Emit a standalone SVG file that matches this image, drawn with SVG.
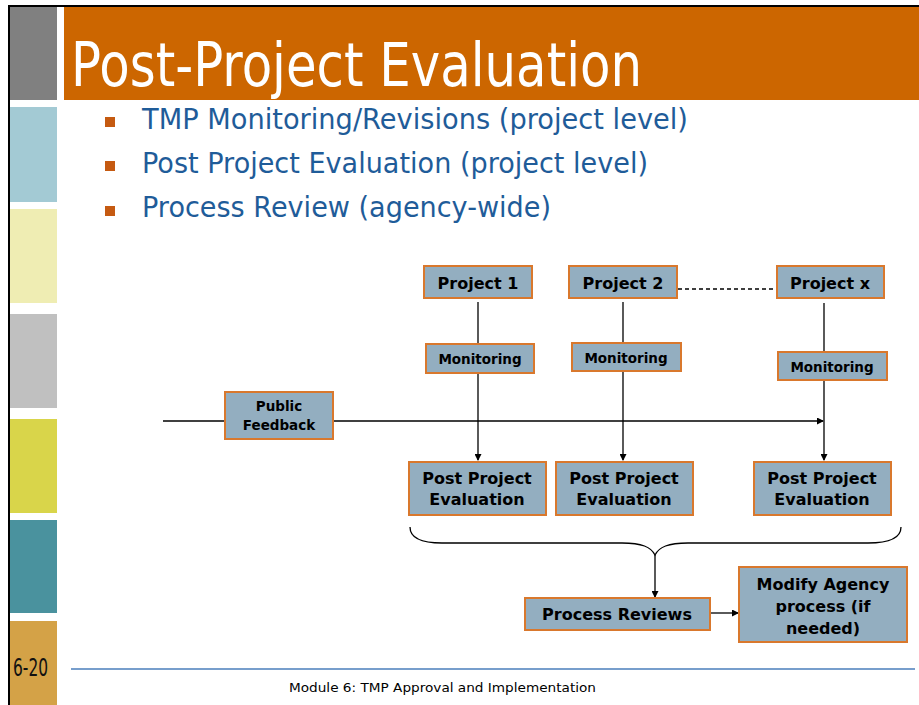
<svg xmlns="http://www.w3.org/2000/svg" width="919" height="705" viewBox="0 0 919 705">
<style>
.box{fill:#93AEC0;stroke:#D9782D;stroke-width:2}
.bt{font-family:"DejaVu Sans",Verdana,sans-serif;font-weight:bold;fill:#000;text-anchor:middle}
.bul{font-family:"DejaVu Sans",Verdana,sans-serif;font-size:29px;fill:#1F5C99}
.ln{stroke:#000;stroke-width:1.3;fill:none}
</style>
<defs>
<marker id="ah" markerWidth="7" markerHeight="7" refX="6" refY="3.5" orient="auto" markerUnits="userSpaceOnUse">
<path d="M0,0 L7,3.5 L0,7 Z" fill="#000"/>
</marker>
</defs>
<rect x="0" y="0" width="919" height="705" fill="#fff"/>
<!-- frame -->
<rect x="8" y="5" width="2" height="700" fill="#000"/>
<rect x="8" y="5" width="911" height="2" fill="#000"/>
<!-- left bars -->
<rect x="10" y="7" width="47" height="93" fill="#808080"/>
<rect x="10" y="107" width="47" height="95" fill="#A3CAD4"/>
<rect x="10" y="209" width="47" height="94" fill="#EFEDB3"/>
<rect x="10" y="314" width="47" height="94" fill="#C0C0C0"/>
<rect x="10" y="419" width="47" height="94" fill="#D9D54A"/>
<rect x="10" y="520" width="47" height="93" fill="#4A929E"/>
<rect x="10" y="621" width="47" height="84" fill="#D4A247"/>
<!-- title -->
<rect x="64" y="7" width="855" height="93" fill="#CC6600"/>
<text x="71" y="86" font-family="DejaVu Sans,Verdana,sans-serif" font-size="60" fill="#fff" textLength="571" lengthAdjust="spacingAndGlyphs">Post-Project Evaluation</text>
<!-- bullets -->
<rect x="105" y="117" width="10" height="10" fill="#C55A11"/>
<rect x="105" y="161" width="10" height="10" fill="#C55A11"/>
<rect x="105" y="206" width="10" height="10" fill="#C55A11"/>
<text class="bul" x="142" y="129" textLength="546" lengthAdjust="spacingAndGlyphs">TMP Monitoring/Revisions (project level)</text>
<text class="bul" x="142" y="173" textLength="506" lengthAdjust="spacingAndGlyphs">Post Project Evaluation (project level)</text>
<text class="bul" x="142" y="217" textLength="409" lengthAdjust="spacingAndGlyphs">Process Review (agency-wide)</text>
<!-- footer -->
<line x1="71" y1="669" x2="915" y2="669" stroke="#4A7EBB" stroke-width="1.5"/>
<text x="13" y="676" font-family="DejaVu Sans Condensed,DejaVu Sans,sans-serif" font-size="25" fill="#111" textLength="35" lengthAdjust="spacingAndGlyphs">6-20</text>
<text x="289" y="692" font-family="DejaVu Sans,Verdana,sans-serif" font-size="13" fill="#000" textLength="307" lengthAdjust="spacingAndGlyphs">Module 6: TMP Approval and Implementation</text>
<!-- connectors -->
<g id="connectors">
<line class="ln" x1="678" y1="289" x2="775" y2="289" stroke-dasharray="4,3"/>
<line class="ln" x1="478" y1="302" x2="478" y2="343"/>
<line class="ln" x1="478" y1="373" x2="478" y2="460" marker-end="url(#ah)"/>
<line class="ln" x1="623" y1="302" x2="623" y2="342"/>
<line class="ln" x1="623" y1="371" x2="623" y2="460" marker-end="url(#ah)"/>
<line class="ln" x1="824" y1="303" x2="824" y2="351"/>
<line class="ln" x1="824" y1="380" x2="824" y2="460" marker-end="url(#ah)"/>
<line class="ln" x1="163" y1="421" x2="224" y2="421"/>
<line class="ln" x1="333" y1="421" x2="823" y2="421" marker-end="url(#ah)"/>
<path class="ln" d="M410,527 C410,539 422,543 442,543 L622,543 C642,543 651,547 655,555 C659,547 668,543 688,543 L868,543 C888,543 901,539 901,527"/>
<line class="ln" x1="655" y1="555" x2="655" y2="597" marker-end="url(#ah)"/>
<line class="ln" x1="710" y1="613" x2="738" y2="613" marker-end="url(#ah)"/>
</g>
<!-- nodes -->
<g id="project1"><rect class="box" x="424" y="266" width="108" height="32"/><text class="bt" x="478" y="289" font-size="16">Project 1</text></g>
<g id="project2"><rect class="box" x="569" y="266" width="108" height="32"/><text class="bt" x="623" y="289" font-size="16">Project 2</text></g>
<g id="projectx"><rect class="box" x="777" y="266" width="107" height="32"/><text class="bt" x="830" y="289" font-size="16">Project x</text></g>
<g id="monitoring1"><rect class="box" x="426" y="344" width="108" height="29"/><text class="bt" x="480" y="364" font-size="13.5">Monitoring</text></g>
<g id="monitoring2"><rect class="box" x="572" y="343" width="109" height="28"/><text class="bt" x="626" y="363" font-size="13.5">Monitoring</text></g>
<g id="monitoringx"><rect class="box" x="778" y="352" width="109" height="28"/><text class="bt" x="832" y="372" font-size="13.5">Monitoring</text></g>
<g id="publicfeedback"><rect class="box" x="225" y="392" width="108" height="47"/><text class="bt" x="279" y="411" font-size="13.5">Public</text><text class="bt" x="279" y="430" font-size="13.5">Feedback</text></g>
<g id="ppe1"><rect class="box" x="409" y="462" width="137" height="53"/><text class="bt" x="477" y="484" font-size="16">Post Project</text><text class="bt" x="477" y="505" font-size="16">Evaluation</text></g>
<g id="ppe2"><rect class="box" x="556" y="462" width="137" height="53"/><text class="bt" x="624" y="484" font-size="16">Post Project</text><text class="bt" x="624" y="505" font-size="16">Evaluation</text></g>
<g id="ppex"><rect class="box" x="754" y="462" width="137" height="53"/><text class="bt" x="822" y="484" font-size="16">Post Project</text><text class="bt" x="822" y="505" font-size="16">Evaluation</text></g>
<g id="processreviews"><rect class="box" x="525" y="598" width="185" height="32"/><text class="bt" x="617" y="620" font-size="16">Process Reviews</text></g>
<g id="modify"><rect class="box" x="739" y="567" width="168" height="75"/><text class="bt" x="823" y="590" font-size="16">Modify Agency</text><text class="bt" x="823" y="612" font-size="16">process (if</text><text class="bt" x="823" y="634" font-size="16">needed)</text></g>
</svg>
